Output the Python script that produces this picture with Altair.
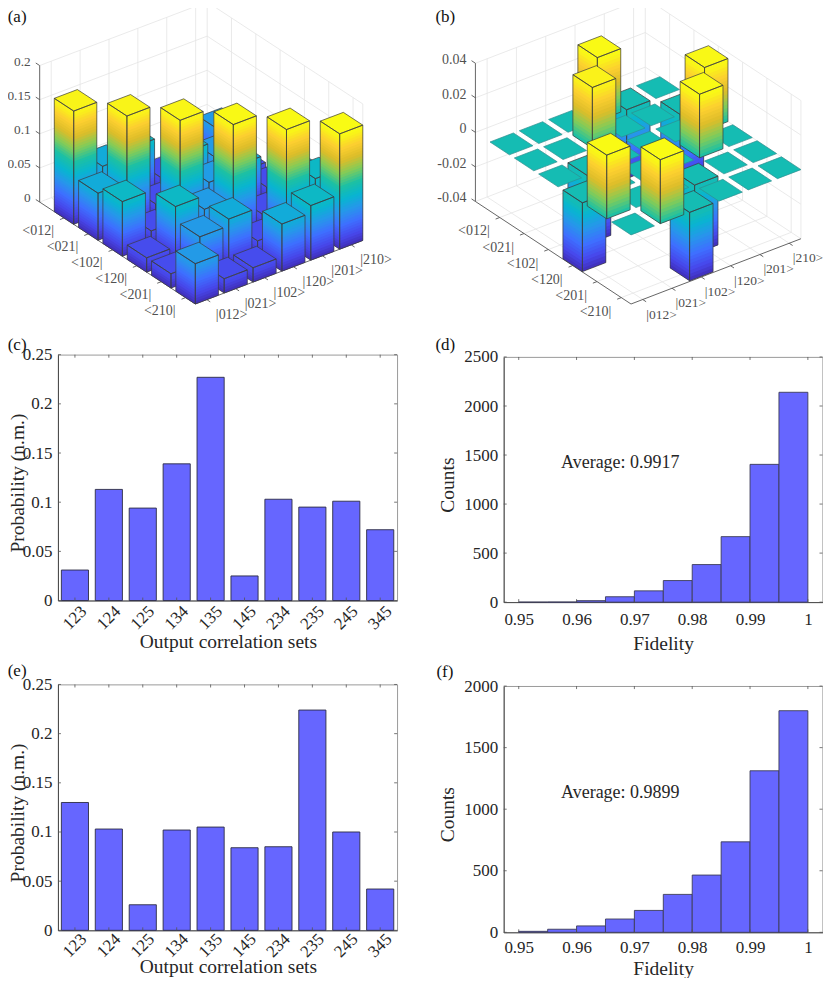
import altair as alt
import pandas as pd

# ---- data ----
bras = ["<012|", "<021|", "<102|", "<120|", "<201|", "<210|"]
kets = ["|012>", "|021>", "|102>", "|120>", "|201>", "|210>"]

# panel (a) matrix, rows are bras, columns are kets
rho_a_0 = [0.166, 0.069, 0.080, 0.021, 0.021, 0.059]
rho_a_1 = [0.069, 0.166, 0.021, 0.080, 0.059, 0.021]
rho_a_2 = [0.080, 0.021, 0.167, 0.060, 0.069, 0.021]
rho_a_3 = [0.021, 0.080, 0.060, 0.168, 0.021, 0.069]
rho_a_4 = [0.021, 0.059, 0.069, 0.021, 0.168, 0.080]
rho_a_5 = [0.059, 0.021, 0.021, 0.069, 0.080, 0.169]

# panel (b) matrix
rho_b_0 = [0, 0, 0, 0.0367, -0.0398, 0]
rho_b_1 = [0, 0, 0.0352, 0, 0, -0.0398]
rho_b_2 = [0, -0.0398, 0, 0, 0, 0.0365]
rho_b_3 = [-0.0398, 0, 0, 0, 0.0368, 0]
rho_b_4 = [0.0369, 0, 0, -0.0398, 0, 0]
rho_b_5 = [0, 0.0370, -0.0396, 0, 0, 0]

sets = ["123", "124", "125", "134", "135", "145", "234", "235", "245", "345"]
prob_c = [0.031, 0.113, 0.094, 0.139, 0.227, 0.025, 0.103, 0.095, 0.101, 0.072]
prob_e = [0.130, 0.103, 0.026, 0.102, 0.105, 0.084, 0.085, 0.224, 0.100, 0.042]

bin_lo = [0.950, 0.955, 0.960, 0.965, 0.970, 0.975, 0.980, 0.985, 0.990, 0.995]
bin_hi = [0.955, 0.960, 0.965, 0.970, 0.975, 0.980, 0.985, 0.990, 0.995, 1.000]
counts_d = [0, 1, 15, 55, 115, 220, 383, 668, 1405, 2140]
counts_f = [8, 25, 52, 108, 178, 308, 465, 735, 1312, 1800]

prob_ticks = [0, 0.05, 0.1, 0.15, 0.2, 0.25]
fid_ticks = [0.95, 0.96, 0.97, 0.98, 0.99, 1]
counts_ticks_d = [0, 500, 1000, 1500, 2000, 2500]
counts_ticks_f = [0, 500, 1000, 1500, 2000]
z_ticks_a = [0, 0.05, 0.1, 0.15, 0.2]
z_ticks_b = [-0.04, -0.02, 0, 0.02, 0.04]

parula = ["#3e26a8", "#4747eb", "#3e6fff", "#2796eb", "#08b5d0",
          "#1cc0a4", "#81cc59", "#dcbd29", "#fccf30", "#f9fb14"]
parula_stops = [k / 9 for k in range(10)]

SERIF = "Liberation Serif"
BLUE = "#6666ff"
TEXT = "#262626"
GRID = "#e4e4e4"


def line(pts, color, width):
    return {"type": "Feature",
            "geometry": {"type": "LineString", "coordinates": pts},
            "properties": {"edge": color, "wd": width}}


def poly(pts, level, op=1, edge="transparent"):
    return {"type": "Feature",
            "geometry": {"type": "Polygon", "coordinates": [pts + [pts[0]]]},
            "properties": {"level": level, "op": op, "edge": edge}}


def clip_top(p, q, ymin=8.0):
    # the page margin eats everything above y=8
    if p[1] >= ymin and q[1] >= ymin:
        return p, q
    if p[1] < ymin and q[1] < ymin:
        return None
    t = (ymin - p[1]) / (q[1] - p[1])
    m = [p[0] + t * (q[0] - p[0]), ymin]
    return (m, q) if p[1] < ymin else (p, m)


def bars3d(rows, L, F, R, zticks, zpx, step, origin, w, h, name, name_xy,
           z_label_dx, z_label_dy, z_font, ket_font, bra_off, ket_off, tile_edge):
    zmin, zmax = zticks[0], zticks[-1]
    ax = ((F[0] - L[0]) / 6.4, (F[1] - L[1]) / 6.4)
    bx = ((R[0] - F[0]) / 5.8, (R[1] - F[1]) / 5.8)
    flat = [v for r in rows for v in r]
    c0 = min(flat + [0])
    c1 = max(flat)
    ox, oy = origin

    def P(i, j, z):
        # i runs along the bra axis, j along the ket axis; page pixels
        a = i + 1.0
        b = j + 0.4
        return (L[0] + a * ax[0] + b * bx[0],
                L[1] + a * ax[1] + b * bx[1] - (z - zmin) * zpx)

    def loc(p):
        return [p[0] - ox, p[1] - oy]

    def lev(z):
        return (z - c0) / (c1 - c0)

    imin, imax, jmin, jmax = -1.0, 5.4, -0.4, 5.4
    walls = []

    def wall(p, q, color=GRID, width=0.8):
        s = clip_top(p, q)
        if s is not None:
            walls.append(line([loc(s[0]), loc(s[1])], color, width))

    for z in zticks:
        wall(P(imin, jmin, z), P(imin, jmax, z))
        wall(P(imin, jmax, z), P(imax, jmax, z))
    for k in range(6):
        wall(P(imin, k, zmin), P(imin, k, zmax))
        wall(P(k, jmax, zmin), P(k, jmax, zmax))
        wall(P(imin, k, zmin), P(imax, k, zmin))
        wall(P(k, jmin, zmin), P(k, jmax, zmin))
    wall(P(imin, jmax, zmin), P(imin, jmax, zmax))
    wall(P(imax, jmax, zmin), P(imax, jmax, zmax))
    wall(P(imin, jmin, zmin), P(imax, jmin, zmin), "#555555", 0.9)
    wall(P(imax, jmin, zmin), P(imax, jmax, zmin), "#555555", 0.9)
    wall(P(imin, jmin, zmin), P(imin, jmin, zmax), "#555555", 0.9)
    for k in range(6):
        wall(P(k, jmin, zmin), P(k, jmin - 0.14, zmin), "#555555", 0.9)
        wall(P(imax, k, zmin), P(imax + 0.14, k, zmin), "#555555", 0.9)
    for z in zticks:
        wall(P(imin, jmin, z), P(imin - 0.16, jmin, z), "#555555", 0.9)

    # painter's order: back rows first, far columns first
    faces = []
    hw = 0.4
    for i in range(6):
        for j in range(5, -1, -1):
            v = rows[i][j]
            lo, hi = min(0, v), max(0, v)
            i0, i1, j0, j1 = i - hw, i + hw, j - hw, j + hw
            z = lo
            while z < hi - 1e-9:
                z2 = min(z + step, hi)
                low = max(lo, z - step)
                mid = lev((z + z2) / 2)
                faces.append(poly([loc(P(i0, j0, low)), loc(P(i1, j0, low)),
                                   loc(P(i1, j0, z2)), loc(P(i0, j0, z2))], mid))
                faces.append(poly([loc(P(i1, j0, low)), loc(P(i1, j1, low)),
                                   loc(P(i1, j1, z2)), loc(P(i1, j0, z2))], mid))
                z = z2
            top = [loc(P(i0, j0, hi)), loc(P(i1, j0, hi)),
                   loc(P(i1, j1, hi)), loc(P(i0, j1, hi))]
            edge = "#3c3c3c" if v != 0 else tile_edge
            faces.append(poly(top, lev(hi), 1, edge))
            if v != 0:
                faces.append(poly([loc(P(i0, j0, lo)), loc(P(i1, j0, lo)),
                                   loc(P(i1, j0, hi)), loc(P(i0, j0, hi))], 0, 0, edge))
                faces.append(poly([loc(P(i1, j0, lo)), loc(P(i1, j1, lo)),
                                   loc(P(i1, j1, hi)), loc(P(i1, j0, hi))], 0, 0, edge))

    texts = []
    for k in range(6):
        p = P(k, jmin, zmin)
        texts.append({"x": p[0] + bra_off[0] - ox, "y": p[1] + bra_off[1] - oy,
                      "t": bras[k], "side": "right", "fs": 14})
        p = P(imax, k, zmin)
        texts.append({"x": p[0] + ket_off[0] - ox, "y": p[1] + ket_off[1] - oy,
                      "t": kets[k], "side": "left", "fs": ket_font})
    for z in zticks:
        p = P(imin, jmin, z)
        texts.append({"x": p[0] + z_label_dx - ox, "y": p[1] + z_label_dy - oy,
                      "t": format(z, "g"), "side": "right", "fs": z_font})
    texts = pd.DataFrame(texts)

    proj = alt.Projection(type="identity", scale=1, translate=[0, 0])
    wall_layer = alt.Chart(alt.Data(values=walls)).mark_geoshape(filled=False, clip=False).encode(
        stroke=alt.Stroke("properties.edge:N", scale=None),
        strokeWidth=alt.StrokeWidth("properties.wd:Q", scale=None),
    ).project(**proj.to_dict())
    face_layer = alt.Chart(alt.Data(values=faces)).mark_geoshape(strokeWidth=0.7, clip=False).encode(
        fill=alt.Fill("properties.level:Q", legend=None,
                      scale=alt.Scale(domain=parula_stops, range=parula, interpolate="rgb")),
        fillOpacity=alt.FillOpacity("properties.op:Q", scale=None),
        stroke=alt.Stroke("properties.edge:N", scale=None),
    ).project(**proj.to_dict())
    layers = [wall_layer, face_layer]
    for side in ["left", "right"]:
        layers.append(alt.Chart(texts[texts.side == side]).mark_text(
            font=SERIF, align=side, baseline="middle", color="#505050"
        ).encode(x=alt.X("x:Q", scale=None, axis=None),
                 y=alt.Y("y:Q", scale=None, axis=None), text="t:N",
                 size=alt.Size("fs:Q", scale=None)))
    return alt.layer(*layers, panel_name(name, name_xy[0] - ox, name_xy[1] - oy)).properties(
        width=w, height=h, view=alt.ViewConfig(stroke="transparent"))


def panel_name(name, x, y):
    d = pd.DataFrame({"x": [x], "y": [y], "t": [name]})
    return alt.Chart(d).mark_text(font=SERIF, fontSize=17, align="left", baseline="middle",
                                  color="#111111").encode(
        x=alt.X("x:Q", scale=None, axis=None), y=alt.Y("y:Q", scale=None, axis=None), text="t:N")


def inner_ticks(xvals, yvals, xenc, yscale, w, h):
    tx = alt.Chart(pd.DataFrame({"v": xvals}))
    ty = alt.Chart(pd.DataFrame({"v": yvals}))
    style = dict(color="#555555", strokeWidth=0.8)
    return [
        tx.mark_rule(**style).encode(x=xenc, y=alt.value(0), y2=alt.value(3)),
        tx.mark_rule(**style).encode(x=xenc, y=alt.value(h), y2=alt.value(h - 3)),
        ty.mark_rule(**style).encode(y=alt.Y("v:Q", scale=yscale), x=alt.value(0), x2=alt.value(3)),
        ty.mark_rule(**style).encode(y=alt.Y("v:Q", scale=yscale), x=alt.value(w), x2=alt.value(w - 3)),
    ]


def prob_panel(values, name, name_xy, origin, h, title_y, label_pad):
    w = 339.4
    xs = alt.Scale(domain=sets, paddingInner=0.2, paddingOuter=0.1)
    ys = alt.Scale(domain=[0, 0.25], nice=False)
    d = pd.DataFrame({"set": sets, "p": values})
    bars = alt.Chart(d).mark_bar(fill=BLUE, stroke="#2c2c44", strokeWidth=0.9).encode(
        x=alt.X("set:N", scale=xs, sort=sets, axis=alt.Axis(
            title="Output correlation sets", labelAngle=315, labelAlign="center",
            labelBaseline="middle", labelPadding=label_pad, ticks=False, titleX=170, titleY=title_y,
            titleBaseline="middle", labelOverlap=False)),
        y=alt.Y("p:Q", scale=ys, axis=alt.Axis(
            title="Probability (n.m.)", values=prob_ticks, format="~g", ticks=False,
            labelPadding=6, grid=False, titleX=-40, titleY=h / 2 + 5, titleBaseline="middle")),
    )
    ticks = inner_ticks(sets, prob_ticks, alt.X("v:N", scale=xs, sort=sets), ys, w, h)
    name_layer = panel_name(name, name_xy[0] - origin[0], name_xy[1] - origin[1])
    return alt.layer(bars, *ticks, name_layer).properties(width=w, height=h)


def fid_panel(counts, cticks, average, avg_y, name, name_xy, origin, h, title_y, label_pad):
    w = 319.0
    xs = alt.Scale(domain=[0.9474, 1.00253], nice=False, zero=False)
    ys = alt.Scale(domain=[cticks[0], cticks[-1]], nice=False)
    d = pd.DataFrame({"lo": bin_lo, "hi": bin_hi, "n": counts, "base": [0] * len(counts)})
    bars = alt.Chart(d).mark_rect(fill=BLUE, stroke="#3c3c58", strokeWidth=0.9).encode(
        x=alt.X("lo:Q", scale=xs, axis=alt.Axis(
            title="Fidelity", values=fid_ticks, format="~g", ticks=False, labelPadding=label_pad,
            grid=False, titleX=w / 2, titleY=title_y, titleBaseline="middle")),
        x2="hi:Q",
        y=alt.Y("n:Q", scale=ys, axis=alt.Axis(
            title="Counts", values=cticks, format="d", ticks=False, labelPadding=6,
            grid=False, titleX=-56, titleY=h / 2 + 5, titleBaseline="middle")),
        y2="base:Q",
    )
    note = pd.DataFrame({"x": [561.7 - origin[0]], "y": [avg_y - origin[1]], "t": [average]})
    note_layer = alt.Chart(note).mark_text(font=SERIF, fontSize=18, align="left", baseline="middle",
                                           color=TEXT).encode(
        x=alt.X("x:Q", scale=None, axis=None), y=alt.Y("y:Q", scale=None, axis=None), text="t:N")
    ticks = inner_ticks(fid_ticks, cticks, alt.X("v:Q", scale=xs), ys, w, h)
    name_layer = panel_name(name, name_xy[0] - origin[0], name_xy[1] - origin[1])
    return alt.layer(bars, *ticks, note_layer, name_layer).properties(width=w, height=h)


panel_a = bars3d([rho_a_0, rho_a_1, rho_a_2, rho_a_3, rho_a_4, rho_a_5],
                 (40.0, 202.3), (195.7, 304.3), (363.3, 240.7), z_ticks_a, 683.0, 0.004,
                 (58.3, 8.0), 339.4, 262.7, "(a)", (8, 17), -9, -4, 13.3, 14, (-10, 13), (9, 15), "#3c3c3c")
panel_b = bars3d([rho_b_0, rho_b_1, rho_b_2, rho_b_3, rho_b_4, rho_b_5],
                 (476.0, 201.7), (631.7, 304.3), (801.7, 239.0), z_ticks_b, 1729.0, 0.002,
                 (504.3, 8.0), 319.0, 265.4, "(b)", (436, 17), -9, -3, 14, 13.5, (-10, 14), (3.5, 15), "#2f8f8f")

panel_c = prob_panel(prob_c, "(c)", (8, 345), (58.3, 354.7), 246, 41, 17)
panel_e = prob_panel(prob_e, "(e)", (8, 671), (58.3, 684.7), 246, 36, 15)
panel_d = fid_panel(counts_d, counts_ticks_d, "Average: 0.9917", 462.7, "(d)", (436, 345), (504.3, 356.7), 245.3, 41, 9)
panel_f = fid_panel(counts_f, counts_ticks_f, "Average: 0.9899", 792.7, "(f)", (437, 671), (504.3, 685.3), 246.4, 36, 7)

left = alt.vconcat(panel_a, panel_c, panel_e, spacing=84, bounds="flush")
right = alt.vconcat(panel_b, panel_d, panel_f, spacing=83.3, bounds="flush")

# flush bounds give a nested column no width, so the spacing runs from left edge to left edge.
# the page counts its 8px margins too, so the svg has to stay inside 815x966
chart = alt.hconcat(left, right, spacing=446, bounds="flush").properties(
    padding={"left": -2.0, "top": -3.4, "right": -1.5, "bottom": -1}
).configure_view(stroke="#8f8f8f", strokeWidth=0.9).configure_axis(
    labelFont=SERIF, titleFont=SERIF, labelFontSize=17, titleFontSize=19.5,
    labelColor=TEXT, titleColor=TEXT, titleFontWeight="normal",
    domainColor="#404040", domainWidth=0.9, grid=False,
).configure_concat(spacing=0)

chart.save("out.html", embed_options={"renderer": "svg", "actions": False})
